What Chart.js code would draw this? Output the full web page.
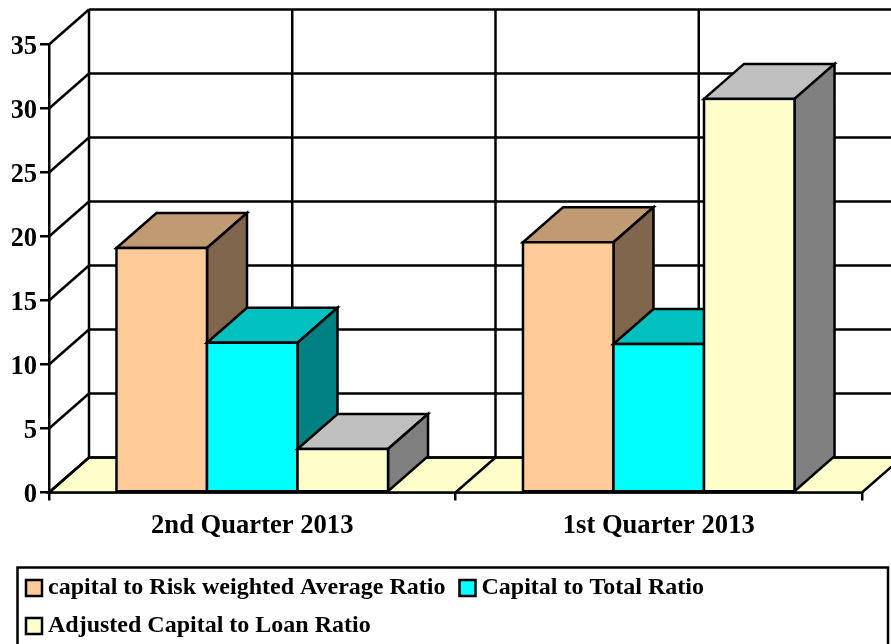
<!DOCTYPE html>
<html>
<head>
<meta charset="utf-8">
<style>html,body{margin:0;padding:0;background:#fff;overflow:hidden}canvas{display:block}</style>
<script src="https://cdn.jsdelivr.net/npm/chart.js@4"></script>
</head>
<body>
<canvas id="c" width="891" height="644"></canvas>
<script>
const categories = ['2nd Quarter 2013', '1st Quarter 2013'];
const riskRatio = [19.1, 19.55];
const totalRatio = [11.7, 11.6];
const loanRatio = [3.4, 30.75];
const seriesNames = ['capital to Risk weighted Average Ratio', 'Capital to Total Ratio', 'Adjusted Capital to Loan Ratio'];
const frontColors = ['#FFCC99', '#00FFFF', '#FFFFCC'];
const topColors = ['#C09A73', '#00C0C0', '#C0C0C0'];
const sideColors = ['#80664D', '#008080', '#808080'];
const yTicks = [0, 5, 10, 15, 20, 25, 30, 35];

const DX = 40, DY = 35, LW = 2.5, INK = '#000';
const FONT = 'Liberation Serif';

function poly(ctx, pts, fill) {
  ctx.beginPath();
  pts.forEach((p, i) => i ? ctx.lineTo(p[0], p[1]) : ctx.moveTo(p[0], p[1]));
  ctx.closePath();
  if (fill) { ctx.fillStyle = fill; ctx.fill(); }
  ctx.stroke();
}
function line(ctx, x1, y1, x2, y2) {
  ctx.beginPath(); ctx.moveTo(x1, y1); ctx.lineTo(x2, y2); ctx.stroke();
}

const walls3d = {
  id: 'walls3d',
  beforeDatasetsDraw(chart) {
    const { ctx, chartArea: a, scales: { x, y } } = chart;
    ctx.save();
    ctx.strokeStyle = INK; ctx.lineWidth = LW; ctx.lineJoin = 'miter';
    // floor
    poly(ctx, [[a.left, a.bottom], [a.left + DX, a.bottom - DY], [a.right + DX, a.bottom - DY], [a.right, a.bottom]], '#FFFFCC');
    const half = (x.getPixelForValue(1) - x.getPixelForValue(0)) / 2;
    const boundaries = categories.map((_, i) => x.getPixelForValue(i) + half);
    boundaries.slice(0, -1).forEach(b => line(ctx, b, a.bottom, b + DX, a.bottom - DY));
    // back wall and side wall grid lines
    yTicks.forEach(v => {
      const p = y.getPixelForValue(v);
      line(ctx, a.left, p, a.left + DX, p - DY);
      line(ctx, a.left + DX, p - DY, a.right + DX, p - DY);
    });
    const verticals = [a.left];
    categories.forEach((_, i) => verticals.push(x.getPixelForValue(i), x.getPixelForValue(i) + half));
    verticals.forEach(v => line(ctx, v + DX, a.top - DY, v + DX, a.bottom - DY));
    // bars: each series in turn, left to right, so later series overlap earlier ones
    chart.data.datasets.forEach((_, i) => {
      const meta = chart.getDatasetMeta(i);
      meta.data.forEach(b => {
        const x1 = b.x - b.width / 2, x2 = b.x + b.width / 2, t = b.y, base = b.base;
        poly(ctx, [[x1, t], [x1 + DX, t - DY], [x2 + DX, t - DY], [x2, t]], topColors[i]);
        poly(ctx, [[x2, t], [x2 + DX, t - DY], [x2 + DX, base - DY], [x2, base]], sideColors[i]);
      });
      meta.controller.draw();
      ctx.strokeStyle = INK; ctx.lineWidth = LW;
      meta.data.forEach(b => ctx.strokeRect(b.x - b.width / 2, b.y, b.width, b.base - b.y));
    });
    ctx.restore();
    return false;
  },
  afterDraw(chart) {
    const { ctx, legend } = chart;
    ctx.save();
    ctx.strokeStyle = INK; ctx.lineWidth = LW;
    // legend frame
    ctx.strokeRect(17.5, 567.5, 870.5, 90);
    // larger legend swatches over the native key
    legend.legendHitBoxes.forEach((h, i) => {
      const sy = h.top + h.height / 2 - 8;
      ctx.fillStyle = frontColors[i];
      ctx.fillRect(h.left, sy, 16, 16);
      ctx.strokeRect(h.left, sy, 16, 16);
    });
    ctx.restore();
  }
};

new Chart(document.getElementById('c'), {
  type: 'bar',
  data: {
    labels: categories,
    datasets: [riskRatio, totalRatio, loanRatio].map((d, i) => ({
      label: seriesNames[i],
      data: d,
      backgroundColor: frontColors[i],
      borderColor: INK,
      borderWidth: 0,
      categoryPercentage: 0.668,
      barPercentage: 1
    }))
  },
  plugins: [walls3d],
  options: {
    responsive: false,
    animation: false,
    layout: { padding: { left: 12, right: 29, top: 44.5, bottom: -4 } },
    plugins: {
      title: { display: false },
      tooltip: { enabled: false },
      legend: {
        position: 'bottom',
        align: 'start',
        labels: {
          boxWidth: 10,
          boxHeight: 16,
          padding: 14,
          color: '#000',
          font: { family: FONT, weight: 'bold', size: 24, lineHeight: 23 / 24 }
        }
      }
    },
    scales: {
      x: {
        afterFit(s) { s.height = 69.5; },
        border: { display: true, color: INK, width: LW },
        grid: { drawOnChartArea: false, drawTicks: true, tickLength: 8, color: INK, lineWidth: LW },
        ticks: { color: '#000', padding: 9.5, maxRotation: 0, font: { family: FONT, weight: 'bold', size: 26.6 } }
      },
      y: {
        min: 0, max: 35,
        afterFit(s) { s.width = 37; },
        afterBuildTicks(s) { s.ticks = yTicks.map(v => ({ value: v })); },
        border: { display: true, color: INK, width: LW },
        grid: { drawOnChartArea: false, drawTicks: true, tickLength: 9, color: INK, lineWidth: LW },
        ticks: { color: '#000', padding: 3, labelOffset: 3, font: { family: FONT, weight: 'bold', size: 26.6 } }
      }
    }
  }
});
</script>
</body>
</html>
